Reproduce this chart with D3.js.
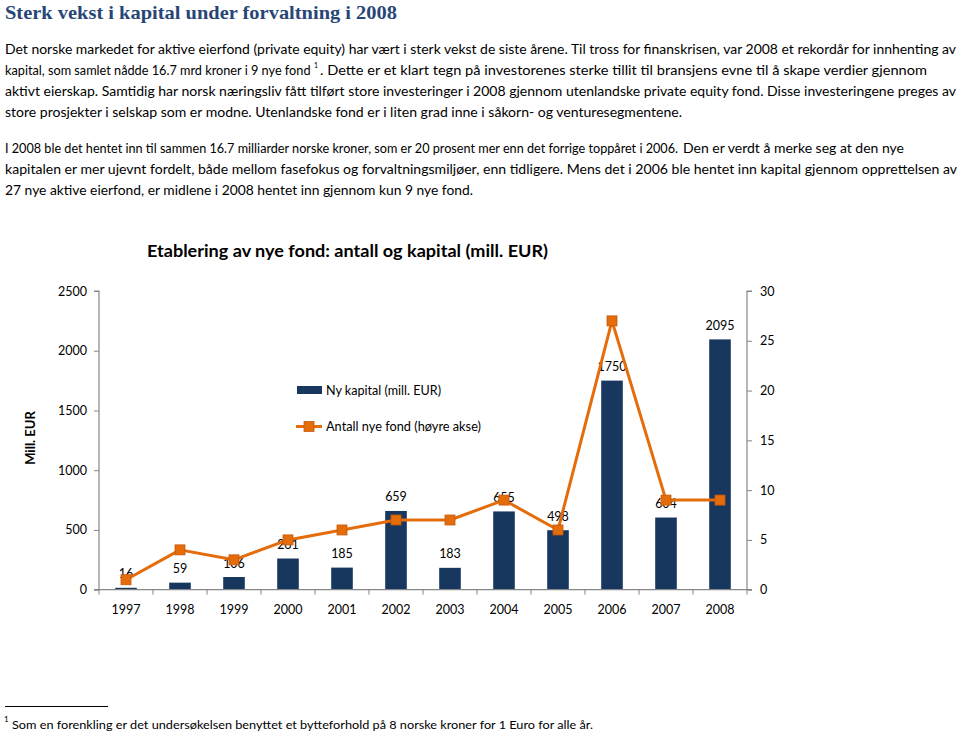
<!DOCTYPE html>
<html>
<head>
<meta charset="utf-8">
<script src="https://cdn.jsdelivr.net/npm/d3@7/dist/d3.min.js"></script>
<style>
  html, body { margin: 0; padding: 0; background: #fff; }
  svg { display: block; }
  text { font-family: Lato, "Open Sans", sans-serif; fill: #000; }
</style>
</head>
<body>
<svg id="chart" width="960" height="731"></svg>
<script>
// ---- data ----
const years = ["1997","1998","1999","2000","2001","2002","2003","2004","2005","2006","2007","2008"];
const capital = [16, 59, 106, 261, 185, 659, 183, 655, 498, 1750, 604, 2095];
const funds = [1, 4, 3, 5, 6, 7, 7, 9, 6, 27, 9, 9];
const leftTicks = [0, 500, 1000, 1500, 2000, 2500];
const rightTicks = [0, 5, 10, 15, 20, 25, 30];

const pageTitle = "Sterk vekst i kapital under forvaltning i 2008";
const chartTitle = "Etablering av nye fond: antall og kapital (mill. EUR)";
const legendBar = "Ny kapital (mill. EUR)";
const legendLine = "Antall nye fond (høyre akse)";
const yLabel = "Mill. EUR";
const footnote = "Som en forenkling er det undersøkelsen benyttet et bytteforhold på 8 norske kroner for 1 Euro for alle år.";

// body text lines: baseline, then parts [x0, x1, text, fontSize, isSuperscript]
const bodyLines = [
  [54, [[5, 956, "Det norske markedet for aktive eierfond (private equity) har vært i sterk vekst de siste årene. Til tross for finanskrisen, var 2008 et rekordår for innhenting av", 13.5, false]]],
  [75, [[5, 310.5, "kapital, som samlet nådde 16.7 mrd kroner i 9 nye fond", 13.5, false],
        [314, 318, "1", 7, true],
        [320, 927, ". Dette er et klart tegn på investorenes sterke tillit til bransjens evne til å skape verdier gjennom", 13.5, false]]],
  [96, [[5, 956, "aktivt eierskap. Samtidig har norsk næringsliv fått tilført store investeringer i 2008 gjennom utenlandske private equity fond.  Disse investeringene preges av", 13.5, false]]],
  [117, [[5, 682, "store prosjekter i selskap som er modne. Utenlandske fond er i liten grad inne i såkorn- og venturesegmentene.", 13.5, false]]],
  [153, [[5, 678, "I 2008 ble det hentet inn til sammen 16.7 milliarder norske kroner, som er 20 prosent mer enn det forrige toppåret i 2006.", 12.5, false],
         [683, 904, "Den er verdt å merke seg at den nye", 13.5, false]]],
  [174, [[5, 957, "kapitalen er mer ujevnt fordelt, både mellom fasefokus og forvaltningsmiljøer, enn tidligere. Mens det i 2006 ble hentet inn kapital gjennom opprettelsen av", 13.5, false]]],
  [195, [[5, 473, "27 nye aktive eierfond, er midlene i 2008 hentet inn gjennom kun 9 nye fond.", 13.5, false]]]
];

const svg = d3.select("#chart");

// ---- page heading and text ----
svg.append("text")
  .attr("x", 5).attr("y", 19)
  .attr("textLength", 392).attr("lengthAdjust", "spacingAndGlyphs")
  .style("font-family", "'Liberation Serif', 'DejaVu Serif', serif")
  .style("font-weight", "bold").style("font-size", "19.5px")
  .style("fill", "#284675")
  .text(pageTitle);

const bt = svg.selectAll("text.body").data(bodyLines).join("text")
  .attr("class", "body")
  .style("font-size", "13.5px");
bt.selectAll("tspan").data(d => d[1].map(p => [d[0], ...p])).join("tspan")
  .attr("x", d => d[1])
  .attr("y", d => d[5] ? d[0] - 7 : d[0])
  .attr("textLength", d => d[5] ? null : d[2] - d[1])
  .attr("lengthAdjust", "spacingAndGlyphs")
  .style("font-size", d => d[4] + "px")
  .text(d => d[3]);

// ---- chart ----
const x0 = 99, x1 = 747, yTop = 291, yBot = 589.7;
const x = d3.scaleBand().domain(years).range([x0, x1]).padding(0);
const yL = d3.scaleLinear().domain([0, 2500]).range([yBot, yTop]);
const yR = d3.scaleLinear().domain([0, 30]).range([yBot, yTop]);
const axisColor = "#868686";

// chart title
svg.append("text")
  .attr("x", 147).attr("y", 257)
  .attr("textLength", 401).attr("lengthAdjust", "spacingAndGlyphs")
  .style("font-weight", "bold").style("font-size", "17.5px")
  .text(chartTitle);

// bars
const barW = x.bandwidth() * 0.4;
svg.selectAll("rect.bar").data(years).join("rect")
  .attr("class", "bar")
  .attr("x", (d) => x(d) + (x.bandwidth() - barW) / 2)
  .attr("width", barW)
  .attr("y", (d, i) => yL(capital[i]))
  .attr("height", (d, i) => yBot - yL(capital[i]))
  .attr("fill", "#17375E");

// axes
const gL = svg.append("g").attr("transform", `translate(${x0},0)`)
  .call(d3.axisLeft(yL).tickValues(leftTicks).tickSize(5).tickPadding(7).tickFormat(d3.format("d")));
const gR = svg.append("g").attr("transform", `translate(${x1},0)`)
  .call(d3.axisRight(yR).tickValues(rightTicks).tickSize(5).tickPadding(8).tickFormat(d3.format("d")));
const gX = svg.append("g").attr("transform", `translate(0,${yBot})`)
  .call(d3.axisBottom(x).tickSize(0).tickPadding(15));
// category boundary ticks
gX.selectAll("line.bt").data(d3.range(years.length + 1)).join("line")
  .attr("class", "bt")
  .attr("x1", i => x0 + i * x.step()).attr("x2", i => x0 + i * x.step())
  .attr("y1", 0).attr("y2", 5)
  .attr("stroke", axisColor);

[gL, gR, gX].forEach(g => {
  g.select(".domain").attr("stroke", axisColor).attr("stroke-width", 1.2);
  g.selectAll(".tick line").attr("stroke", axisColor);
  g.selectAll(".tick text").style("font-family", "Lato, sans-serif").style("font-size", "12.5px").attr("fill", "#000");
});
gL.select(".domain").attr("d", `M-5,${yTop}H0V${yBot}H-5`);
gR.select(".domain").attr("d", `M5,${yTop}H0V${yBot}H5`);
gX.select(".domain").attr("d", `M${x0},0H${x1}`);

// data labels
svg.selectAll("text.val").data(years).join("text")
  .attr("class", "val")
  .attr("x", d => x(d) + x.bandwidth() / 2)
  .attr("y", (d, i) => yL(capital[i]) - 9.5)
  .attr("text-anchor", "middle")
  .style("font-size", "12.5px")
  .text((d, i) => capital[i]);

// line
const line = d3.line()
  .x((d, i) => x(years[i]) + x.bandwidth() / 2)
  .y(d => yR(d));
svg.append("path").datum(funds)
  .attr("d", line)
  .attr("fill", "none").attr("stroke", "#E46C0A").attr("stroke-width", 3).attr("stroke-linejoin", "round");
const ms = 10;
svg.selectAll("rect.mk").data(funds).join("rect")
  .attr("class", "mk")
  .attr("x", (d, i) => x(years[i]) + x.bandwidth() / 2 - ms / 2)
  .attr("y", d => yR(d) - ms / 2)
  .attr("width", ms).attr("height", ms)
  .attr("fill", "#E46C0A").attr("stroke", "#C65A0A").attr("stroke-width", 0.8);

// y label
svg.append("text")
  .attr("transform", "translate(35,438) rotate(-90)")
  .attr("text-anchor", "middle")
  .style("font-weight", "bold").style("font-size", "13px")
  .text(yLabel);

// legend
svg.append("rect").attr("x", 297).attr("y", 386).attr("width", 25).attr("height", 8).attr("fill", "#17375E");
svg.append("text").attr("x", 326).attr("y", 395).style("font-size", "12.5px")
  .attr("textLength", 115).attr("lengthAdjust", "spacingAndGlyphs").text(legendBar);
svg.append("line").attr("x1", 296).attr("x2", 322).attr("y1", 426.5).attr("y2", 426.5)
  .attr("stroke", "#E46C0A").attr("stroke-width", 3);
svg.append("rect").attr("x", 304).attr("y", 421.5).attr("width", 10).attr("height", 10)
  .attr("fill", "#E46C0A").attr("stroke", "#C65A0A").attr("stroke-width", 0.8);
svg.append("text").attr("x", 326).attr("y", 431).style("font-size", "12.5px")
  .attr("textLength", 155).attr("lengthAdjust", "spacingAndGlyphs").text(legendLine);

// footnote
svg.append("line").attr("x1", 5).attr("x2", 108).attr("y1", 706.5).attr("y2", 706.5)
  .attr("stroke", "#000").attr("stroke-width", 1);
const fn = svg.append("text").attr("x", 4).attr("y", 729).style("font-size", "12px");
fn.append("tspan").attr("dy", -7).style("font-size", "8px").text("1");
fn.append("tspan").attr("x", 12).attr("dy", 7)
  .attr("textLength", 581).attr("lengthAdjust", "spacingAndGlyphs")
  .text(footnote);
</script>
</body>
</html>
